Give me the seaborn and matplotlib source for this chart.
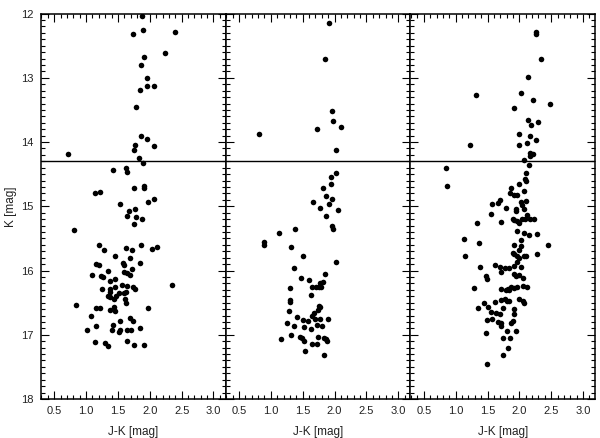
import matplotlib
matplotlib.use("Agg")
import matplotlib.pyplot as plt
import seaborn as sns
import pandas as pd
from matplotlib.ticker import MultipleLocator

# ---------------- data ----------------
jk_1 = [1.88, 1.89, 1.74, 2.40, 2.24, 1.91, 1.86, 1.96, 1.96, 2.06, 1.85, 1.78, 1.86, 1.96, 2.06,
        1.77, 1.76, 0.72, 1.83, 1.89, 1.43, 1.63, 1.64, 1.75, 1.91, 1.91, 1.14, 1.22, 1.98, 2.06,
        1.53, 1.77, 1.68, 1.64, 1.79, 1.88,
        1.75, 0.81, 1.20, 1.28, 1.86, 1.62, 1.72, 2.04, 2.11, 1.46, 1.69, 1.15, 1.20, 1.58, 1.84,
        1.59, 1.72, 1.35, 1.59, 1.65, 1.69, 1.10, 1.24, 1.26, 1.37, 1.45, 1.57, 1.64, 2.35, 1.25,
        1.37, 1.45, 1.38, 1.74, 1.77, 1.51, 1.59, 1.63, 1.34, 1.38, 1.47, 1.44, 1.61, 1.62, 0.85,
        1.16, 1.22, 1.44, 1.97, 1.37, 1.46, 1.07, 1.53, 1.69, 1.74, 1.15, 1.43, 1.85, 1.01, 1.40,
        1.51, 1.54, 1.65, 1.71, 1.14, 1.30, 1.34, 1.64, 1.75, 1.91]
k_1 = [12.03, 12.25, 12.32, 12.29, 12.61, 12.68, 12.80, 13.01, 13.13, 13.13, 13.19, 13.45, 13.90,
       13.96, 14.06, 14.05, 14.12, 14.18, 14.25, 14.33, 14.43, 14.41, 14.46, 14.71, 14.68, 14.72,
       14.80, 14.78, 14.93, 14.89, 14.97, 15.04, 15.07, 15.15, 15.16, 15.20,
       15.28, 15.37, 15.60, 15.68, 15.60, 15.65, 15.68, 15.67, 15.64, 15.77, 15.80, 15.90, 15.92,
       15.88, 15.89, 15.91, 15.98, 16.00, 16.02, 16.04, 16.07, 16.07, 16.09, 16.10, 16.16, 16.13,
       16.22, 16.24, 16.23, 16.28, 16.29, 16.26, 16.33, 16.26, 16.29, 16.35, 16.35, 16.33, 16.39,
       16.41, 16.39, 16.45, 16.44, 16.51, 16.53, 16.59, 16.58, 16.57, 16.59, 16.62, 16.63, 16.71,
       16.79, 16.74, 16.79, 16.86, 16.85, 16.89, 16.92, 16.93, 16.95, 16.93, 16.92, 16.92, 17.11,
       17.13, 17.17, 17.09, 17.16, 17.16]

jk_2 = [1.92, 1.85, 1.96, 1.98, 2.10, 1.73, 0.81, 2.03, 2.02, 1.95, 1.94, 1.82, 1.87, 1.96, 1.66,
        1.92, 1.77, 2.06, 1.86,
        1.13, 1.38, 1.96, 1.98, 0.89, 0.90, 1.32, 1.51, 2.02, 1.36, 1.85, 1.47, 1.60, 1.77, 1.82,
        1.65, 1.71, 1.76, 1.78, 1.30, 1.63, 1.30, 1.30, 1.76, 1.77, 1.74, 1.29, 1.67, 1.64, 1.41,
        1.51, 1.58, 1.69, 1.77, 1.89, 1.26, 1.36, 1.52, 1.63, 1.73, 1.81, 1.32, 1.16, 1.45, 1.49,
        1.52, 1.74, 1.84, 1.86, 1.88, 1.64, 1.72, 1.54, 1.84]
k_2 = [12.15, 12.70, 13.51, 13.67, 13.76, 13.79, 13.88, 14.13, 14.48, 14.54, 14.65, 14.71, 14.84,
       14.89, 14.94, 14.97, 15.03, 15.06, 15.15,
       15.41, 15.36, 15.30, 15.36, 15.56, 15.60, 15.64, 15.78, 15.86, 15.96, 16.06, 16.11, 16.15,
       16.19, 16.18, 16.25, 16.25, 16.25, 16.26, 16.27, 16.38, 16.46, 16.49, 16.55, 16.57, 16.61,
       16.63, 16.66, 16.70, 16.73, 16.77, 16.78, 16.75, 16.76, 16.75, 16.81, 16.87, 16.88, 16.91,
       16.85, 16.87, 17.01, 17.06, 17.03, 17.05, 17.09, 17.03, 17.05, 17.07, 17.09, 17.14, 17.14,
       17.26, 17.32]

jk_3 = [2.26, 2.26, 2.34, 2.14, 1.32, 2.02, 2.22, 2.48, 1.91, 2.13, 2.29, 2.18, 1.99, 2.16, 2.26,
        1.23, 1.99, 2.12, 2.17, 2.21, 2.16, 2.08, 2.15, 0.85, 2.10, 2.09,
        0.86, 2.10, 2.00, 1.87, 2.07, 1.85, 1.92, 1.97, 1.69, 1.67, 1.57, 2.03, 2.10, 2.04, 1.79,
        1.95, 1.94, 2.08, 2.12, 1.56, 1.90, 1.92, 1.96, 2.04, 2.09, 2.16, 2.23, 1.71, 2.00, 1.33,
        1.96, 2.08, 2.28, 2.15, 1.13, 1.36, 1.91, 2.02, 2.02, 2.45, 2.00, 1.90, 1.92, 1.96, 2.08,
        2.10, 2.27, 1.15, 2.00, 1.38, 1.61, 1.70, 1.78, 1.83, 1.92,
        1.71, 1.97, 2.02, 1.92, 1.95, 1.99, 2.05, 1.47, 1.49, 1.29, 1.71, 1.82, 1.87, 1.92, 1.97,
        2.06, 2.12, 1.79, 1.84, 1.45, 1.62, 1.71, 1.77, 1.80, 1.84, 1.99, 2.05, 2.07, 1.50, 1.74,
        1.35, 1.91, 1.56, 1.64, 1.69, 1.92, 1.49, 1.57, 1.66, 1.71, 1.90, 1.87, 1.80, 1.95, 1.48,
        1.71, 1.75, 1.85, 1.82, 1.75, 1.49]
k_3 = [12.29, 12.32, 12.71, 12.99, 13.27, 13.24, 13.35, 13.40, 13.47, 13.66, 13.68, 13.74, 13.88,
       13.91, 13.97, 14.04, 14.04, 14.02, 14.17, 14.18, 14.22, 14.28, 14.36, 14.40, 14.48, 14.58,
       14.68, 14.61, 14.66, 14.72, 14.76, 14.80, 14.83, 14.83, 14.90, 14.95, 14.96, 14.93, 14.91,
       14.98, 15.02, 15.04, 15.07, 15.04, 15.13, 15.12, 15.19, 15.21, 15.23, 15.20, 15.20, 15.19,
       15.20, 15.24, 15.26, 15.26, 15.39, 15.41, 15.43, 15.45, 15.51, 15.57, 15.60, 15.53, 15.62,
       15.60, 15.68, 15.72, 15.75, 15.78, 15.78, 15.77, 15.75, 15.77, 15.81, 15.94, 15.92, 15.95,
       15.96, 15.96, 15.93,
       16.02, 15.87, 15.95, 16.05, 16.09, 16.07, 16.12, 16.09, 16.13, 16.27, 16.28, 16.28, 16.25,
       16.27, 16.25, 16.24, 16.26, 16.31, 16.30, 16.50, 16.49, 16.46, 16.45, 16.47, 16.48, 16.45,
       16.47, 16.50, 16.56, 16.58, 16.59, 16.60, 16.65, 16.66, 16.67, 16.68, 16.77, 16.75, 16.80,
       16.82, 16.78, 16.82, 16.94, 16.94, 16.98, 16.86, 17.05, 17.05, 17.21, 17.31, 17.45]

k_limit = 14.3
x_ticks = [0.5, 1.0, 1.5, 2.0, 2.5, 3.0]
y_ticks = [12, 13, 14, 15, 16, 17, 18]

panels = [(jk_1, k_1), (jk_2, k_2), (jk_3, k_3)]

# ---------------- style ----------------
sns.set_style("ticks")
plt.rcParams['font.family'] = ['Liberation Sans', 'DejaVu Sans']
text_color = '#222222'

fig = plt.figure(figsize=(6.0, 4.38), dpi=100)
left, right, bottom, top = 0.068, 0.992, 0.089, 0.969
w = (right - left) / 3

for i, (jk, kk) in enumerate(panels):
    ax = fig.add_axes([left + i * w, bottom, w, top - bottom])
    df = pd.DataFrame({"J-K": jk, "K": kk})
    sns.scatterplot(data=df, x="J-K", y="K", ax=ax, color="black", s=16,
                    linewidth=0, marker="o", legend=False)
    ax.axhline(k_limit, color="black", linewidth=1.0)
    ax.set_xlim(0.29, 3.19)
    ax.set_ylim(18, 12)
    ax.set_xticks(x_ticks)
    ax.set_xticklabels([f"{t:.1f}" for t in x_ticks])
    ax.xaxis.set_minor_locator(MultipleLocator(0.1))
    ax.yaxis.set_minor_locator(MultipleLocator(0.1))
    ax.set_yticks(y_ticks)
    ax.tick_params(which="both", direction="in", top=True, right=True,
                   color="black", width=0.8, labelsize=8, labelcolor=text_color)
    ax.tick_params(which="major", length=6, pad=5)
    ax.tick_params(which="minor", length=3)
    for sp in ax.spines.values():
        sp.set_linewidth(1.1)
        sp.set_color("black")
    ax.set_xlabel("J-K [mag]", fontsize=8.5, color=text_color, labelpad=7)
    if i == 0:
        ax.set_ylabel("K [mag]", fontsize=8.5, color=text_color, labelpad=3)
    else:
        ax.set_ylabel("")
        ax.set_yticklabels([])

fig.savefig("out.png", dpi=100)
